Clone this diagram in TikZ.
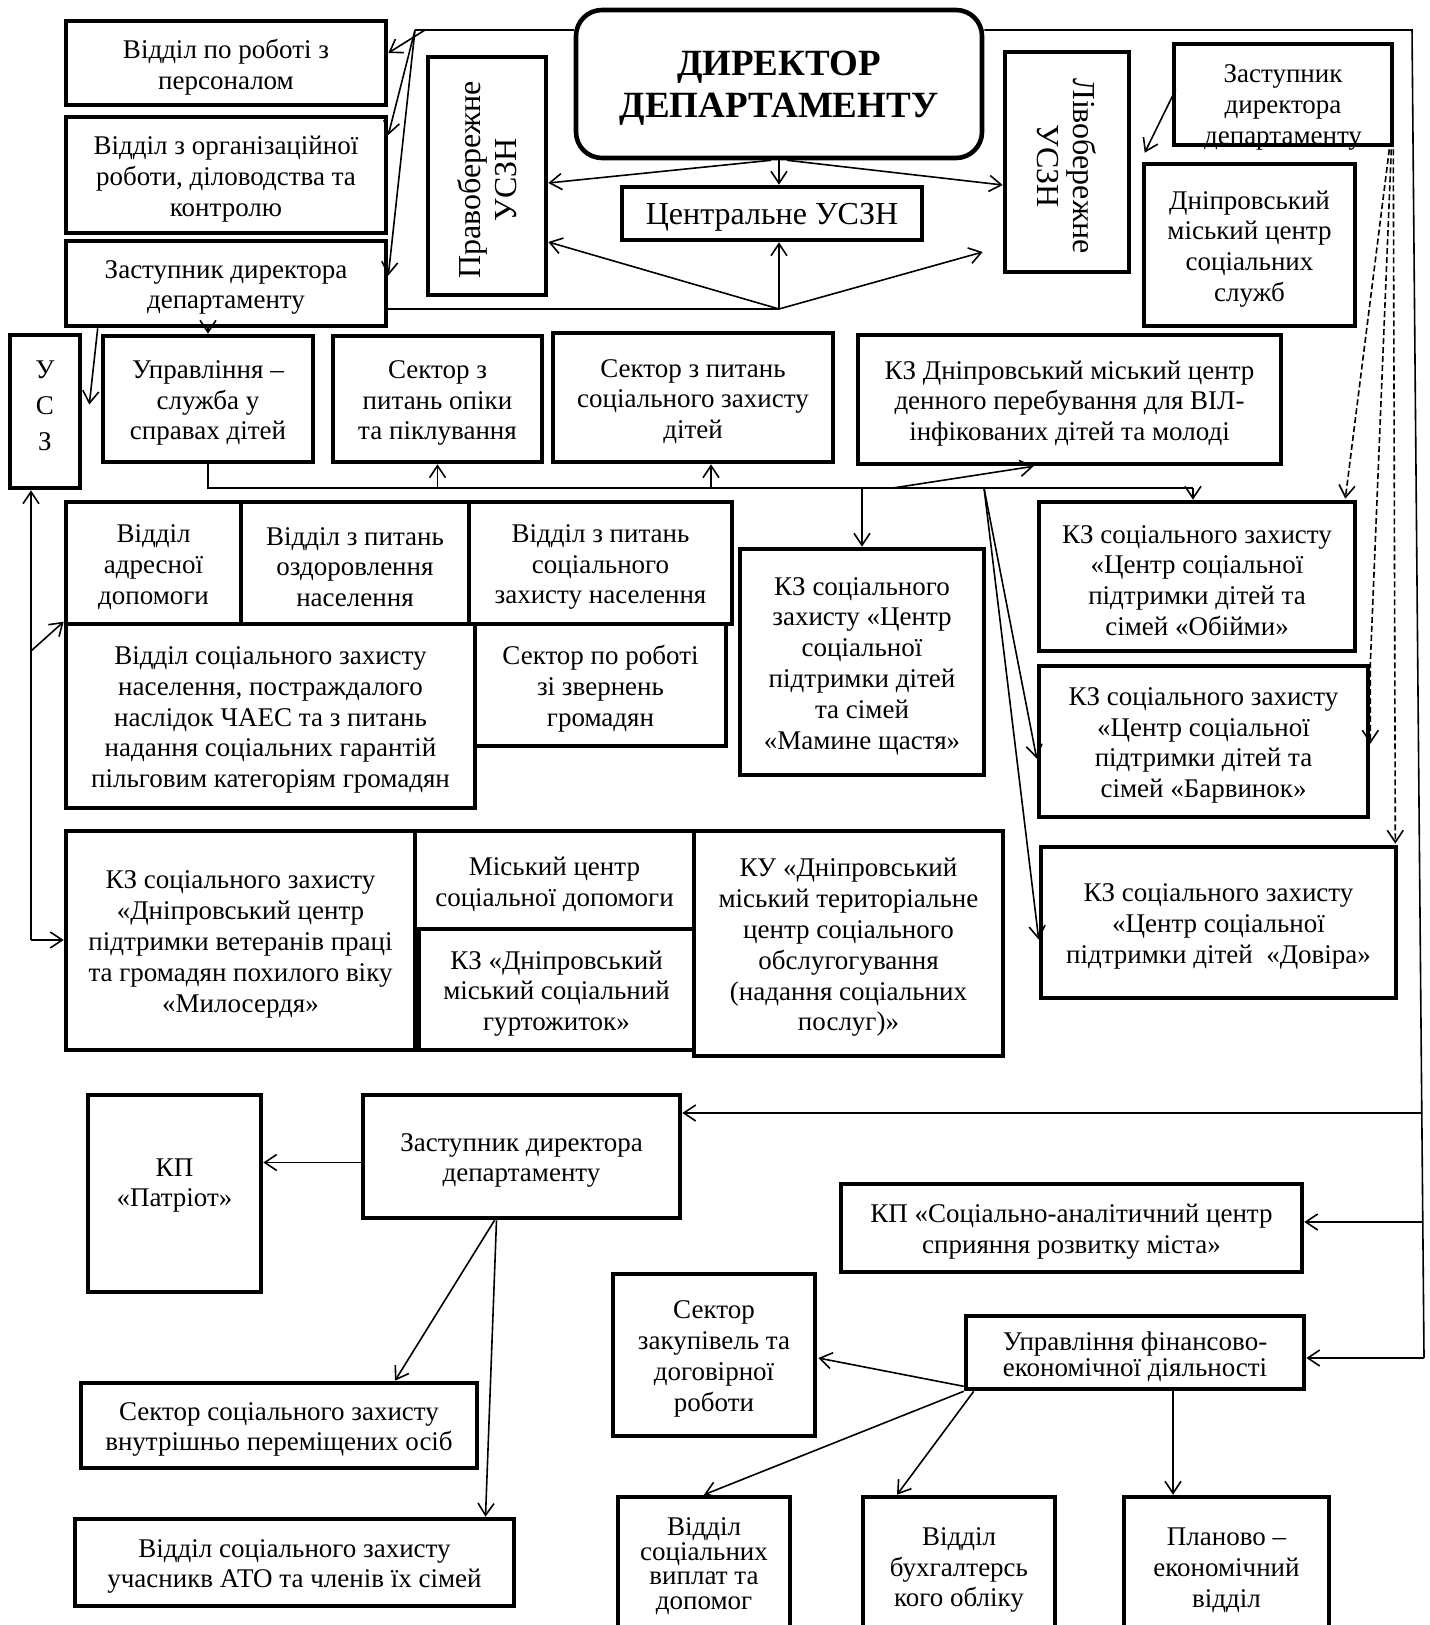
\documentclass[tikz,border=0pt]{standalone}
\usepackage{fontspec}
\setmainfont{Liberation Serif}
\usetikzlibrary{arrows.meta,calc}
\tikzset{
  boxshape/.style={draw, line width=2.3pt, inner sep=0pt},
  boxtext/.style={align=center, inner sep=0pt, yshift=-2pt, font=\fontsize{13.5}{15.4}\selectfont},
  conn/.style={line width=0.8pt},
  arr/.style={conn, -{Straight Barb[length=6pt,width=8pt]}},
  dsh/.style={arr, dash pattern=on 3pt off 1.5pt}
}
\newcommand{\rbox}[7][]{%
  \pgfmathsetlengthmacro{\myBW}{(#5-#3)*0.5pt}%
  \pgfmathsetlengthmacro{\myBH}{(#6-#4)*0.5pt}%
  \node[boxshape,minimum width=\myBW,minimum height=\myBH] (#2) at ({(#3+#5)/2},{(#4+#6)/2}) {};%
  \node[boxtext,#1] at (#2.center) {#7};%
}
\begin{document}
\begin{tikzpicture}[x=0.5pt,y=-0.5pt]
\useasboundingbox (0,0) rectangle (1429,1625);
\fill[white] (0,0) rectangle (1429,1625);

% ---------- boxes ----------
\node[boxshape, rounded corners=13pt, minimum width=203pt, minimum height=74pt] (dir) at (779,84) {};
\node[boxtext, font=\fontsize{18.5}{21}\selectfont\bfseries] at (dir.center) {ДИРЕКТОР\\ДЕПАРТАМЕНТУ};

\rbox{A}{66}{21}{386}{105}{Відділ по роботі з\\персоналом}
\rbox{B}{66}{117}{386}{233}{Відділ з організаційної\\роботи, діловодства та\\контролю}
\rbox{C}{66}{241}{386}{326}{Заступник директора\\департаменту}
\rbox[rotate=90,font=\fontsize{16}{18}\selectfont]{prav}{428}{57}{546}{295}{Правобережне\\УСЗН}
\rbox[font=\fontsize{16}{18}\selectfont]{centr}{622}{187}{922}{240}{Центральне УСЗН}
\rbox[rotate=-90,font=\fontsize{16}{18}\selectfont]{liv}{1005}{52}{1129}{272}{Лівобережне\\УСЗН}
\rbox[yshift=-4.5pt]{ZR}{1174}{44}{1392}{145}{Заступник\\директора\\департаменту}
\rbox{DMC}{1144}{164}{1355}{326}{Дніпровський\\міський центр\\соціальних\\служб}

\rbox[yshift=5pt,font=\fontsize{13.5}{18}\selectfont]{USZ}{10}{335}{80}{488}{У\\С\\З}
\rbox{USD}{103}{336}{313}{462}{Управління –\\служба у\\справах дітей}
\rbox{SOP}{333}{336}{542}{462}{Сектор з\\питань опіки\\та піклування}
\rbox{SZD}{553}{333}{833}{462}{Сектор з питань\\соціального захисту\\дітей}
\rbox{VIL}{858}{335}{1281}{464}{КЗ Дніпровський міський центр\\денного перебування для ВІЛ-\\інфікованих дітей та молоді}

\rbox{VAD}{66}{502}{241}{624}{Відділ\\адресної\\допомоги}
\rbox{VOZ}{241}{502}{469}{624}{Відділ з питань\\оздоровлення\\населення}
\rbox{VSZ}{469}{502}{732}{624}{Відділ з питань\\соціального\\захисту населення}
\rbox{CHAES}{66}{624}{475}{808}{Відділ соціального захисту\\населення, постраждалого\\наслідок ЧАЕС та з питань\\надання соціальних гарантій\\пільговим категоріям громадян}
\rbox{SZV}{475}{624}{726}{746}{Сектор по роботі\\зі звернень\\громадян}
\rbox{MAM}{740}{549}{984}{775}{КЗ соціального\\захисту «Центр\\соціальної\\підтримки дітей\\та сімей\\«Мамине щастя»}
\rbox{OBI}{1039}{502}{1355}{651}{КЗ соціального захисту\\«Центр соціальної\\підтримки дітей та\\сімей «Обійми»}
\rbox{BAR}{1039}{666}{1368}{817}{КЗ соціального захисту\\«Центр соціальної\\підтримки дітей та\\сімей «Барвинок»}
\rbox{DOV}{1041}{847}{1396}{998}{КЗ соціального захисту\\«Центр соціальної\\підтримки дітей\enspace«Довіра»}

\rbox{MIL}{66}{831}{415}{1050}{КЗ соціального захисту\\«Дніпровський центр\\підтримки ветеранів праці\\та громадян похилого віку\\«Милосердя»}
\rbox{MCS}{415}{831}{694}{929}{Міський центр\\соціальної допомоги}
\rbox{GUR}{419}{929}{694}{1050}{КЗ «Дніпровський\\міський соціальний\\гуртожиток»}
\rbox{KU}{694}{831}{1003}{1056}{КУ «Дніпровський\\міський територіальне\\центр соціального\\обслугогування\\(надання соціальних\\послуг)»}

\rbox[yshift=6pt]{PAT}{88}{1095}{261}{1292}{КП\\«Патріот»}
\rbox{ZB}{363}{1095}{680}{1218}{Заступник директора\\департаменту}
\rbox{KPS}{841}{1184}{1302}{1272}{КП «Соціально-аналітичний центр\\сприяння розвитку міста»}
\rbox{SZK}{613}{1274}{815}{1436}{Сектор\\закупівель та\\договірної\\роботи}
\rbox[font=\fontsize{13.5}{13}\selectfont]{UFE}{966}{1316}{1304}{1389}{Управління фінансово-\\економічної діяльності}
\rbox{VPO}{81}{1383}{477}{1468}{Сектор соціального захисту\\внутрішньо переміщених осіб}
\rbox{ATO}{75}{1519}{514}{1606}{Відділ соціального захисту\\учасникв АТО та членів їх сімей}
\rbox[yshift=2pt,font=\fontsize{13.5}{12.3}\selectfont]{VSV}{618}{1497}{790}{1635}{Відділ\\соціальних\\виплат та\\допомог}
\rbox{VBO}{863}{1497}{1055}{1635}{Відділ\\бухгалтерсь\\кого обліку}
\rbox{PEV}{1124}{1497}{1329}{1635}{Планово –\\економічний\\відділ}

% ---------- connectors ----------
% director to left column
\coordinate (jt) at (415,30);
\coordinate (jtA) at (425,30);
\draw[conn] (jt) -- (jt -| dir.west);
\draw[arr] (jtA) -- ($(A.east)+(0,-10)$);
\draw[arr] (jt) -- ($(B.east)+(0,-40)$);
\draw[arr] (jt) -- ($(C.east)+(0,-8)$);

% director to right bus
\coordinate (tr) at (1412,30);
\coordinate (br) at (1424,1358);
\draw[conn] (tr -| dir.east) -- (tr) -- (br);
\draw[arr] (br) -- (br -| UFE.east);
\coordinate (rb1) at ($(tr)!0.8155!(br)$);
\coordinate (rb2) at ($(tr)!0.8976!(br)$);
\draw[arr] (rb1) -- (rb1 -| ZB.east);
\draw[arr] (rb2) -- (rb2 -| KPS.east);

% director down
\draw[arr] (dir.south) -- (dir.south |- centr.north);
\draw[arr] ($(dir.south)+(-8,0)$) -- ($(prav.east)+(0,7)$);
\draw[arr] ($(dir.south)+(8,0)$) -- ($(liv.west)+(0,23)$);

% left deputy to the three USZN
\coordinate (jc) at (779,309);
\draw[conn] (jc -| C.east) -- (jc);
\draw[arr] (jc) -- (jc |- centr.south);
\draw[arr] (jc) -- ($(prav.east)+(0,66)$);
\draw[arr] (jc) -- ($(liv.west)+(-20,90)$);

% right deputy
\draw[arr] ($(ZR.west)+(4,-5)$) -- ($(DMC.north west)+(3,-9)$);
\draw[dsh] ($(ZR.south east)+(-5,2)$) -- ($(OBI.north east)+(-12,-1)$);
\draw[dsh] ($(ZR.south east)+(-3,2)$) -- (BAR.north east) -- ($(BAR.north east)+(0,80)$);
\draw[dsh] ($(ZR.south east)+(-1,2)$) -- ($(DOV.north east)+(-3,-1)$);

% left deputy down
\draw[arr] (C.south -| USD.north) -- (USD.north);
\draw[arr] ($(C.south west)+(34,0)$) -- ($(USZ.east)+(7,-7)$);

% bus under row 2
\coordinate (hR) at (1193,488);
\draw[conn] (USD.south) -- (USD.south |- hR) -- (hR);
\draw[arr] (hR) -- (hR |- OBI.north);
\draw[arr] (SOP.south |- hR) -- (SOP.south);
\draw[arr] ($(SZD.south |- hR)+(18,0)$) -- ($(SZD.south)+(18,0)$);
\draw[arr] (MAM.north |- hR) -- (MAM.north);
\coordinate (hV) at (893,488);
\draw[arr] (hV) -- ($(VIL.south)+(-36,0)$);
\coordinate (hB) at (984,488);
\draw[arr] (hB) -- ($(BAR.west)+(0,17)$);
\draw[arr] (hB) -- ($(DOV.west)+(0,17)$);

% USZ
\coordinate (uv) at (31,940);
\draw[arr] (uv) -- (uv |- USZ.south);
\draw[arr] (uv) -- (uv -| MIL.west);
\coordinate (ud) at (31,651);
\draw[arr] (ud) -- (CHAES.north west);

% bottom deputy
\coordinate (zbw) at ($(ZB.west)+(0,6)$);
\draw[arr] (zbw) -- (zbw -| PAT.east);
\draw[arr] ($(ZB.south)+(-27,0)$) -- ($(VPO.north)+(116,0)$);
\draw[arr] ($(ZB.south)+(-25,0)$) -- ($(ATO.north)+(191,0)$);

% finance department
\draw[arr] ($(UFE.south west)+(0,-5)$) -- ($(SZK.east)+(1,3)$);
\draw[arr] (UFE.south west) -- (VSV.north);
\draw[arr] ($(UFE.south west)+(10,0)$) -- ($(VBO.north)+(-62,0)$);
\coordinate (pv) at ($(UFE.south)+(38,0)$);
\draw[arr] (pv) -- (pv |- PEV.north);
\end{tikzpicture}
\end{document}
